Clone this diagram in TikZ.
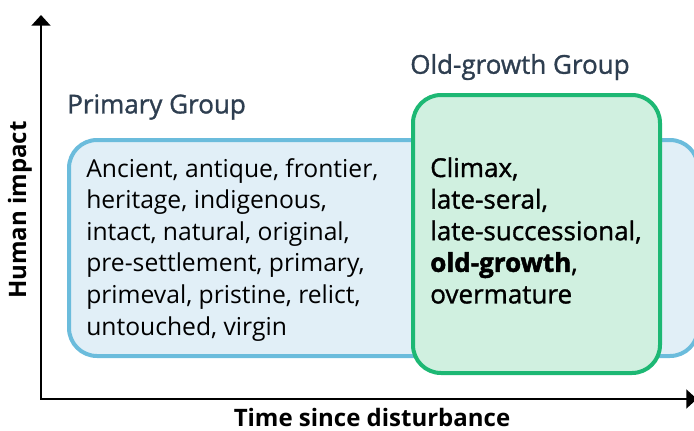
\documentclass[tikz,border=0pt]{standalone}
\usepackage{fontspec}
\setmainfont{Open Sans}
\newfontfamily\semibold[FakeBold=1.2]{Open Sans}
\newfontfamily\heavy[FakeBold=1.8]{Open Sans Bold}
\usetikzlibrary{arrows.meta}
\definecolor{skyedge}{HTML}{6BBCDC}
\definecolor{skyfill}{HTML}{E1EFF7}
\definecolor{leafedge}{HTML}{1DB874}
\definecolor{leaffill}{HTML}{D0F0E0}
\definecolor{slate}{HTML}{2E3E50}

\begin{document}
\begin{tikzpicture}[x=0.75pt,y=-0.75pt,
    box/.style={rounded corners=21pt,line width=3pt},
    grouplabel/.style={anchor=west,inner sep=0pt,text=slate,
      font=\fontsize{19.5}{22}\semibold},
    words/.style={anchor=north west,inner sep=0pt,align=left,
      font=\fontsize{18.5}{23.7}\selectfont},
    axislabel/.style={inner sep=0pt,font=\fontsize{18}{20}\selectfont\bfseries}]
  \useasboundingbox (0,0) rectangle (694,430);
  % the two groups
  \draw[box,draw=skyedge,fill=skyfill] (69,140) rectangle (698,356);
  \draw[box,draw=leafedge,fill=leaffill] (413,95) rectangle (660,373);
  \node[grouplabel] (primary) at (67,107) {Primary Group};
  \node[grouplabel] (oldgrowth) at (410,67) {Old-growth Group};
  \node[words] (primarywords) at (86,158) {Ancient, antique, frontier,\\
    heritage, indigenous,\\ intact, natural, original,\\
    pre-settlement, primary,\\ primeval, pristine, relict,\\
    untouched, virgin};
  \node[words,font=\fontsize{19.5}{23.7}\semibold] (oldwords) at (430,157)
    {Climax,\\ late-seral,\\ late-successional,\\
    {\heavy old-growth},\\ overmature};
  % axes
  \coordinate (top) at (41,15);
  \coordinate (corner) at (41,399);
  \coordinate (right) at (697,399);
  \draw[line width=2pt,line join=miter,
    {Triangle[width=14pt,length=8pt]}-{Triangle[width=14pt,length=8pt]}]
    (top) -- (corner) -- (right);
  \node[axislabel,rotate=90] (impact) at (20,210) {Human impact};
  \node[axislabel] (time) at (372,417) {Time since disturbance};
\end{tikzpicture}
\end{document}
